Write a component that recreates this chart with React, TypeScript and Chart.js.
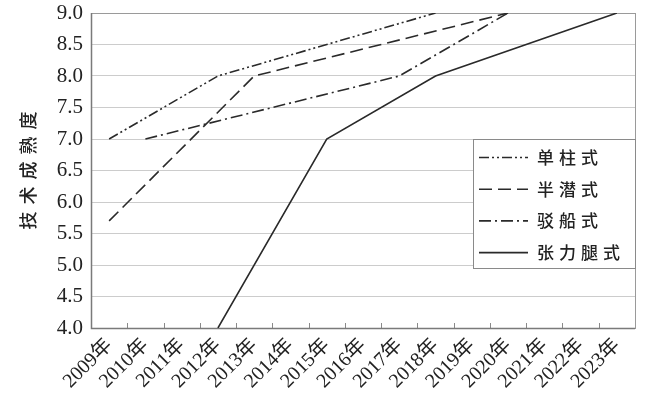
import React, { useEffect, useRef } from "react";
import { Chart, registerables } from "chart.js";

Chart.register(...registerables);

// ---- data ----
const years = [
  "2009年", "2010年", "2011年", "2012年", "2013年", "2014年", "2015年", "2016年",
  "2017年", "2018年", "2019年", "2020年", "2021年", "2022年", "2023年",
];
const seriesNames = ["单柱式", "半潜式", "驳船式", "张力腿式"];
const spar = [7.0, null, null, 8.0, null, null, null, null, null, 9.0, null, null, null, null, null];
const semiSub = [5.7, null, null, null, 8.0, null, null, null, null, null, null, 9.0, null, null, null];
const barge = [null, 7.0, null, null, null, null, null, null, 8.0, null, null, 9.0, null, null, null];
const tlp = [null, null, null, 4.0, null, null, 7.0, null, null, 8.0, null, null, null, null, 9.0];
const yMin = 4.0;
const yMax = 9.0;
const yStep = 0.5;
const yTitle = "技术成熟度";

const dashes = [[10, 3, 2, 3, 2, 3], [13, 6], [12, 4, 2, 4], []];
const LINE = "#2a2a2a";

const framePlugin = {
  id: "frame",
  beforeDatasetsDraw(chart: any) {
    const { ctx, chartArea: a, scales } = chart;
    ctx.save();
    ctx.strokeStyle = "#8a8a8a";
    ctx.lineWidth = 1;
    const xs = scales.x;
    for (let i = 1; i < years.length; i++) {
      const x = Math.round((xs.getPixelForValue(i - 1) + xs.getPixelForValue(i)) / 2) + 0.5;
      ctx.beginPath();
      ctx.moveTo(x, a.bottom);
      ctx.lineTo(x, a.bottom - 5);
      ctx.stroke();
    }
    ctx.strokeStyle = "#9a9a9a";
    ctx.lineWidth = 1;
    ctx.strokeRect(a.left + 0.5, a.top + 0.5, a.right - a.left, a.bottom - a.top);
    ctx.strokeStyle = "#7a7a7a";
    ctx.lineWidth = 1.5;
    ctx.beginPath();
    ctx.moveTo(a.left + 0.5, a.top);
    ctx.lineTo(a.left + 0.5, a.bottom + 0.5);
    ctx.lineTo(a.right, a.bottom + 0.5);
    ctx.stroke();
    ctx.restore();
  },
  afterDatasetsDraw(chart: any) {
    const { ctx, chartArea: a, scales } = chart;
    ctx.save();
    const boxRight = a.right;
    const boxLeft = boxRight - 162;
    const boxTop = Math.round(scales.y.getPixelForValue(7.0)) + 0.5;
    const boxH = 129;
    ctx.fillStyle = "#ffffff";
    ctx.fillRect(boxLeft, boxTop, boxRight - boxLeft, boxH);
    ctx.strokeStyle = "#8a8a8a";
    ctx.lineWidth = 1;
    ctx.strokeRect(boxLeft + 0.5, boxTop, boxRight - boxLeft, boxH);
    chart.data.datasets.forEach((ds: any, i: number) => {
      const cy = boxTop + 18 + i * 31.7;
      ctx.strokeStyle = LINE;
      ctx.lineWidth = 1.6;
      ctx.setLineDash(ds.borderDash || []);
      ctx.beginPath();
      ctx.moveTo(boxLeft + 6, cy);
      ctx.lineTo(boxLeft + 55, cy);
      ctx.stroke();
      ctx.setLineDash([]);
      ctx.fillStyle = "#222222";
      ctx.font = "500 17px 'Noto Sans CJK SC', sans-serif";
      (ctx as any).letterSpacing = "5px";
      ctx.textAlign = "left";
      ctx.textBaseline = "middle";
      ctx.fillText(ds.label, boxLeft + 64, cy);
      (ctx as any).letterSpacing = "0px";
    });
    ctx.translate(28, (a.top + a.bottom) / 2);
    ctx.rotate(-Math.PI / 2);
    ctx.font = "500 18px 'Noto Sans CJK SC', sans-serif";
    (ctx as any).letterSpacing = "7px";
    const w = ctx.measureText(yTitle).width - 7;
    ctx.fillStyle = "#222222";
    ctx.textAlign = "left";
    ctx.textBaseline = "middle";
    ctx.fillText(yTitle, -w / 2, 0);
    ctx.restore();
  },
};

export default function App() {
  const ref = useRef<HTMLCanvasElement>(null);
  useEffect(() => {
    if (!ref.current) return;
    const all = [spar, semiSub, barge, tlp];
    const chart = new Chart(ref.current, {
      type: "line",
      data: {
        labels: years,
        datasets: all.map((d, i) => ({
          label: seriesNames[i],
          data: d,
          borderColor: LINE,
          borderWidth: 1.6,
          borderDash: dashes[i],
          pointRadius: 0,
          fill: false,
          tension: 0,
          spanGaps: true,
        })),
      },
      options: {
        animation: false,
        responsive: false,
        layout: { padding: { top: 13, right: 15, left: 0, bottom: 0 } },
        plugins: { legend: { display: false }, tooltip: { enabled: false } },
        scales: {
          x: {
            offset: true,
            afterFit: (s: any) => { s.height = 80; },
            grid: { display: false, drawTicks: false },
            border: { display: false },
            ticks: {
              minRotation: 45,
              maxRotation: 45,
              padding: 6,
              autoSkip: false,
              color: "#222222",
              font: { family: "'Liberation Serif', 'Noto Sans CJK SC', serif", size: 20 },
            },
          },
          y: {
            min: yMin,
            max: yMax,
            afterFit: (s: any) => { s.width = 91; s.paddingTop = 0; s.paddingBottom = 0; },
            grid: { color: "#cccccc", lineWidth: 1, drawTicks: false },
            border: { display: false },
            ticks: {
              stepSize: yStep,
              padding: 8,
              color: "#222222",
              font: { family: "'Liberation Serif', serif", size: 21, lineHeight: 1 },
              callback: (v: any) => Number(v).toFixed(1),
            },
          },
        },
      },
      plugins: [framePlugin],
    });
    return () => chart.destroy();
  }, []);
  return (
    <div style={{ position: "absolute", left: 0, top: 0, width: 650, height: 408, background: "#fff" }}>
      <canvas ref={ref} width={650} height={408} />
    </div>
  );
}
